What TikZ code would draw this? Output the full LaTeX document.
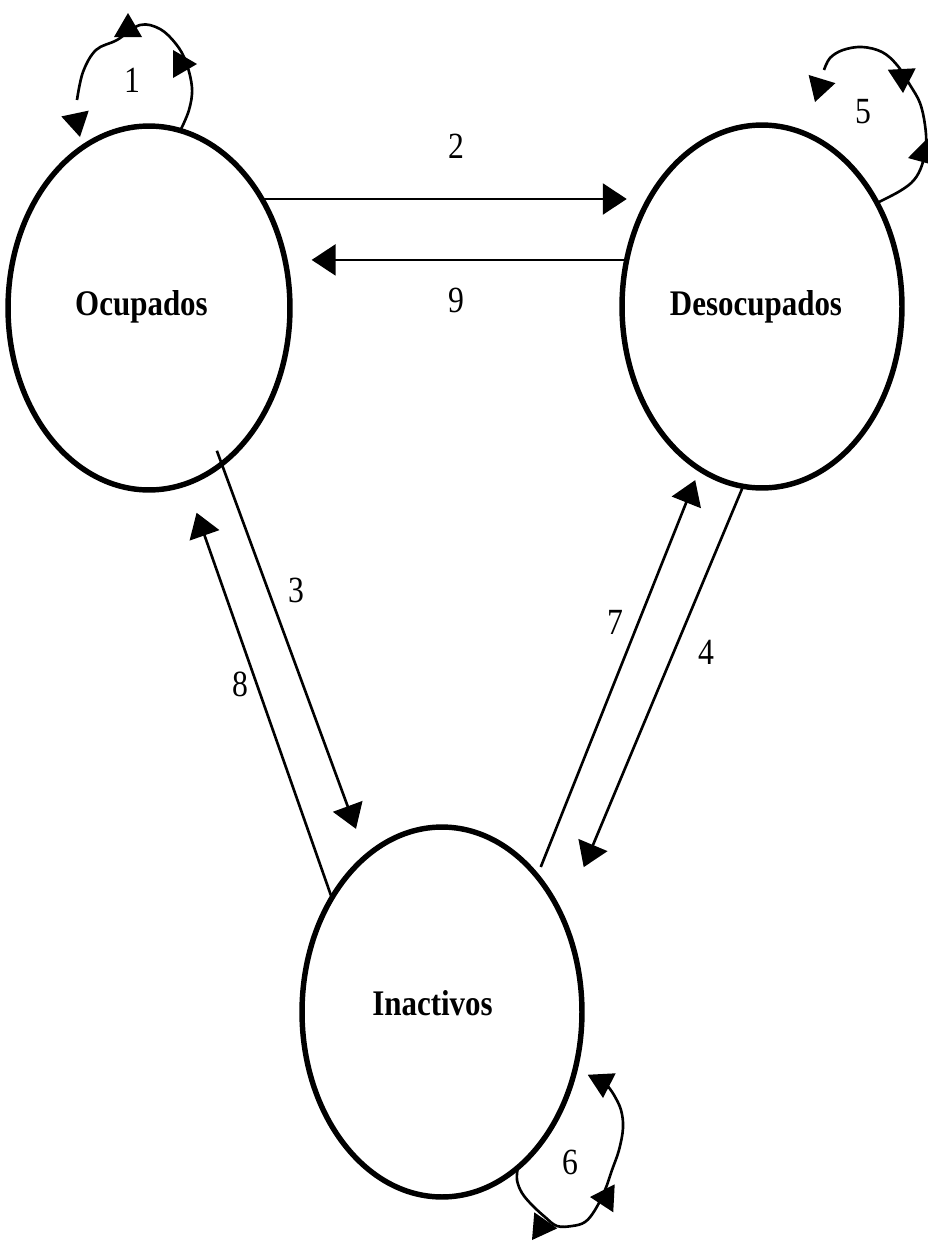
\documentclass[tikz,border=0pt]{standalone}
\usepackage{fontspec}
\newfontfamily\estfont{Liberation Serif}[FakeStretch=0.86]
\usetikzlibrary{arrows.meta,shapes.geometric}
\begin{document}
\begin{tikzpicture}[
		x=0.02cm, y=0.02cm,
		estado/.style={ellipse, draw, line width=3.1pt, inner sep=0pt, outer sep=0pt},
		nombre/.style={font=\estfont\bfseries\fontsize{20.5}{24}\selectfont, anchor=base, inner sep=0pt},
		num/.style={font=\estfont\fontsize{21}{24}\selectfont, inner sep=0pt},
		flecha/.style={line width=1.5pt, -{Triangle[length=0.48cm,width=0.62cm]}},
		lazo/.style={line width=1.5pt},
		punta/.pic={\fill (0,0) -- (-24,14) -- (-24,-14) -- cycle;}
	]
	\useasboundingbox (0,0) rectangle (928,-1241);
	\node[estado, minimum width=5.64cm, minimum height=7.28cm] (ocu) at (149,-308) {};
	\node[estado, minimum width=5.6cm, minimum height=7.26cm] (deso) at (762,-306.5) {};
	\node[estado, minimum width=5.6cm, minimum height=7.4cm] (inac) at (442,-1012) {};
	\node[nombre] (tocu) at ([shift={(-7.5,-7)}]ocu.center) {Ocupados};
	\node[nombre] (tdeso) at ([shift={(-6,-8.5)}]deso.center) {Desocupados};
	\node[nombre] (tinac) at ([shift={(-9.5,-3)}]inac.center) {Inactivos};
	\draw[flecha, shorten >=0.46cm] (ocu.44) -- (ocu.44 -| deso.136);
	\draw[flecha, shorten >=0.54cm] (deso.161) -- (deso.161 -| ocu.20);
	\draw[flecha, shorten <=-0.28cm, shorten >=0.59cm] (ocu.-65) -- (inac.116);
	\draw[flecha, shorten >=0.62cm] (inac.134) -- (ocu.-78);
	\draw[flecha, shorten <=0.2cm, shorten >=0.24cm] (inac.55) -- (deso.-111);
	\draw[flecha, shorten >=1.1cm] (deso.-96) -- (inac.38);
	\draw[lazo] plot[smooth, tension=0.6] coordinates {(ocu.80) (189,-110) (192,-88) (186,-62) (176,-44) (160,-29) (140,-25) (117,-40) (96,-50) (83,-72) (77,-100)};
	\pic[rotate=0] at (197,-64) {punta};
	\pic[rotate=90] at (128,-13) {punta};
	\pic[rotate=-78] at (80,-137) {punta};
	\draw[lazo] plot[smooth, tension=0.6] coordinates {(deso.42) (900,-191) (914,-180) (922,-165) (926,-145) (925,-125) (920,-103) (910,-85) (897,-65) (882,-52) (862,-47) (843,-50) (830,-58) (824,-70)};
	\pic[rotate=-107] at (815,-102) {punta};
	\pic[rotate=-87] at (903,-93) {punta};
	\pic[rotate=195] at (908,-158) {punta};
	\draw[lazo] plot[smooth, tension=0.6] coordinates {(inac.-64) (517,-1180) (522,-1193) (532,-1205) (545,-1217) (557,-1226) (572,-1226) (585,-1222) (595,-1210) (605,-1190) (612,-1170) (619,-1150) (623,-1128) (621,-1110) (614,-1095) (607,-1085)};
	\pic[rotate=-87] at (603,-1098) {punta};
	\pic[rotate=177] at (590,-1197) {punta};
	\pic[rotate=235] at (532,-1240) {punta};
	\node[num] (n1) at (132,-80) {1};
	\node[num] (n2) at (456,-146) {2};
	\node[num] (n9) at (456,-300) {9};
	\node[num] (n5) at (863,-112) {5};
	\node[num] (n3) at (296,-590) {3};
	\node[num] (n8) at (240,-684) {8};
	\node[num] (n7) at (615,-622) {7};
	\node[num] (n4) at (706,-652) {4};
	\node[num] (n6) at (570,-1162) {6};
\end{tikzpicture}
\end{document}
